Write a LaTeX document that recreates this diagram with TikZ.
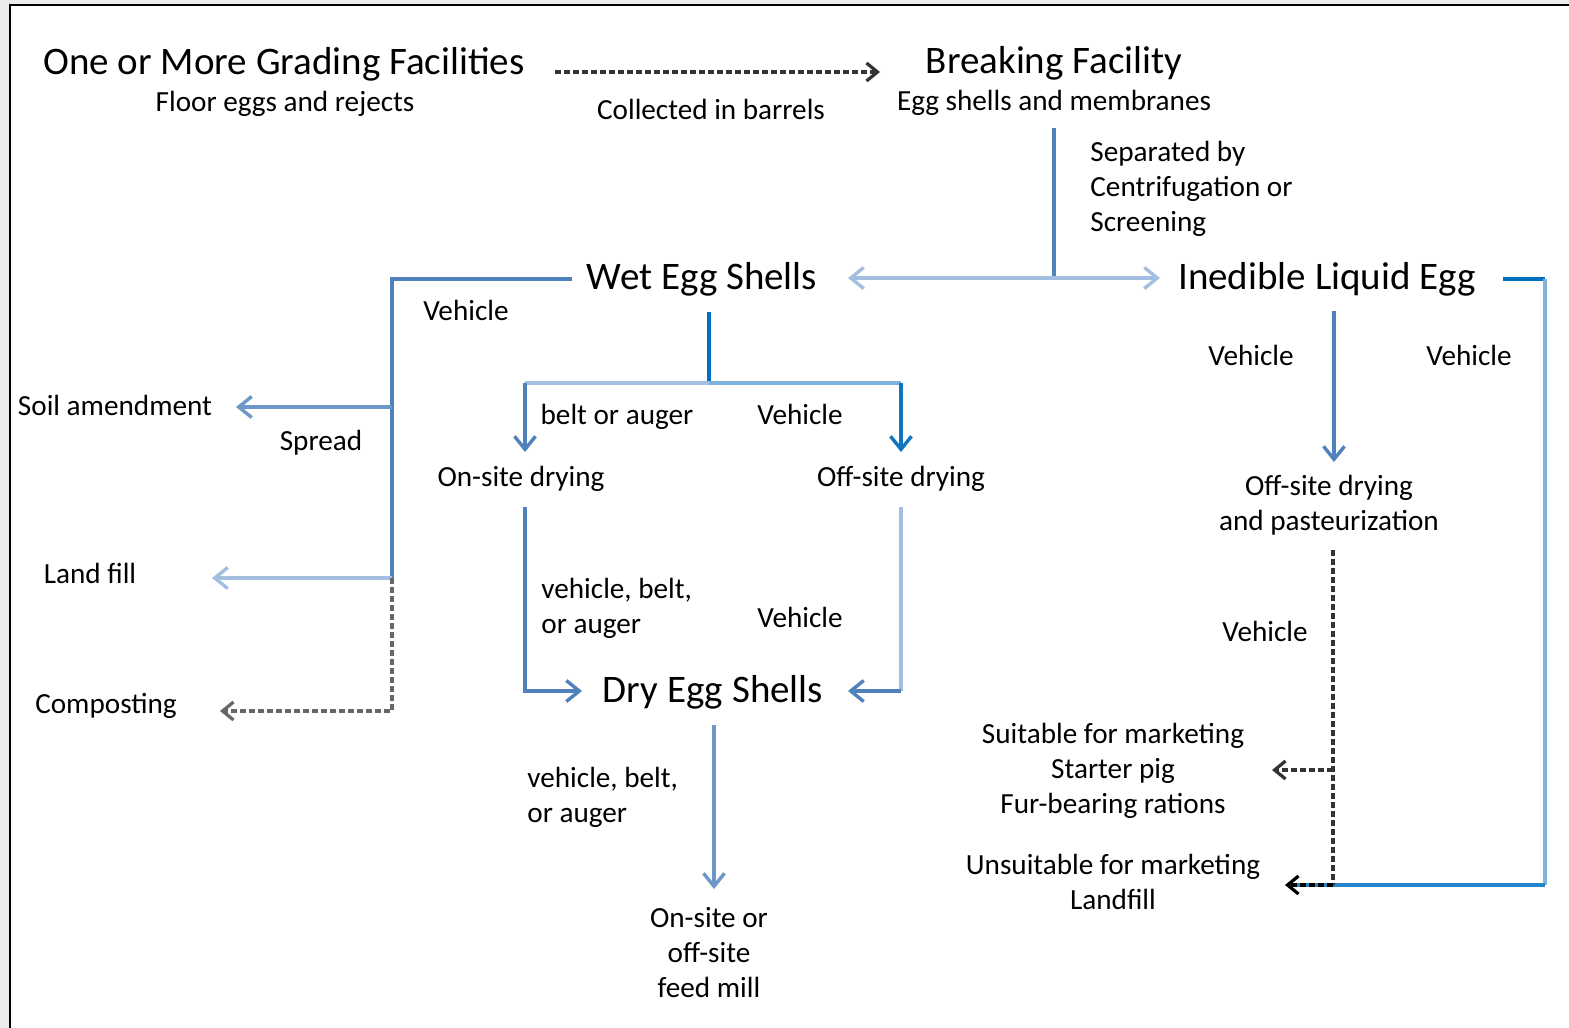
\documentclass[tikz,border=0pt]{standalone}
\usepackage{fontspec}
\setmainfont{Carlito}
\usetikzlibrary{arrows.meta}
\definecolor{blueA}{HTML}{4F81BD}
\definecolor{blueL}{HTML}{A3BEE0}
\definecolor{blueM}{HTML}{6D97C8}
\definecolor{blueD}{HTML}{0070C0}
\definecolor{blueS}{HTML}{7EB3E0}
\definecolor{frameg}{HTML}{ECECEC}
\begin{document}
\begin{tikzpicture}[x=0.5pt,y=-0.5pt,
  small/.style={inner sep=0pt,font=\fontsize{14.6}{17.5}\selectfont},
  head/.style={inner sep=0pt,font=\fontsize{19.5}{23}\selectfont},
  ln/.style={line width=1.7pt},
  tipb/.style={-{Straight Barb[length=6.5pt,width=10.5pt]}},
  tipd/.style={-{Straight Barb[length=5.5pt,width=9pt]}},
  dsh/.style={line width=1.6pt,draw=black!80,dash pattern=on 3pt off 1.5pt}]
\useasboundingbox (0,0) rectangle (1569,1028);
\fill[frameg] (0,0) rectangle (1569,1028);
\fill[white] (10,5) rectangle (1569,1028);
\draw[line width=1pt] (10,1028) -- (10,5) -- (1569,5);

% ---- text nodes ----
\node[head,anchor=base] (grading) at (284,74) {One or More Grading Facilities};
\node[small,anchor=base] (floor) at (285,111) {Floor eggs and rejects};
\node[small,anchor=base] (collected) at (711,119) {Collected in barrels};
\node[head,anchor=base] (breaking) at (1054,73) {Breaking Facility};
\node[small,anchor=base] (eggshells) at (1054,110) {Egg shells and membranes};
\node[small,anchor=west,align=left] (separated) at (1090,189) {Separated by\\Centrifugation or\\Screening};
\node[head,anchor=base] (wet) at (702,289) {Wet Egg Shells};
\node[head,anchor=base] (inedible) at (1327,289) {Inedible Liquid Egg};
\node[small,anchor=base] (veh1) at (466,320) {Vehicle};
\node[small,anchor=base] (soil) at (115,415) {Soil amendment};
\node[small,anchor=base] (spread) at (321,450) {Spread};
\node[small,anchor=base] (belt) at (617,424) {belt or auger};
\node[small,anchor=base] (veh2) at (800,424) {Vehicle};
\node[small,anchor=base] (onsite) at (521,486) {On-site drying};
\node[small,anchor=base] (offsite) at (901,486) {Off-site drying};
\node[small,anchor=base] (veh3) at (1251,365) {Vehicle};
\node[small,anchor=base] (veh4) at (1469,365) {Vehicle};
\node[small,align=center] (offpast) at (1329,505) {Off-site drying\\and pasteurization};
\node[small,anchor=base] (landfill) at (90,583) {Land fill};
\node[small,anchor=base] (compost) at (106,713) {Composting};
\node[small,anchor=west,align=left] (vbo1) at (541,608) {vehicle, belt,\\or auger};
\node[small,anchor=base] (veh5) at (800,627) {Vehicle};
\node[head,anchor=base] (dry) at (713,702) {Dry Egg Shells};
\node[small,anchor=west,align=left] (vbo2) at (527,797) {vehicle, belt,\\or auger};
\node[small,align=center] (feedmill) at (709,953) {On-site or\\off-site\\feed mill};
\node[small,anchor=base] (veh6) at (1265,641) {Vehicle};
\node[small,align=center] (suitable) at (1113,771) {Suitable for marketing\\Starter pig\\Fur-bearing rations};
\node[small,align=center] (unsuitable) at (1113,882) {Unsuitable for marketing\\Landfill};

% ---- junction / end coordinates ----
\coordinate (gradR) at (555,72);
\coordinate (brkL) at (880,72);
\coordinate (bkTop) at (1054,128);
\coordinate (bkJ) at (1054,278);
\coordinate (wetR) at (848,278);
\coordinate (inedL) at (1160,278);
\coordinate (wetL) at (572,279);
\coordinate (lJ1) at (392,279);
\coordinate (lJ2) at (392,407);
\coordinate (lJ3) at (392,578);
\coordinate (lJ4) at (392,711);
\coordinate (soilR) at (236,407);
\coordinate (landR) at (212,578);
\coordinate (compR) at (220,711);
\coordinate (wetB) at (709,312);
\coordinate (wJ) at (709,383);
\coordinate (wJL) at (525,383);
\coordinate (wJR) at (901,383);
\coordinate (onT) at (525,452);
\coordinate (offT) at (901,452);
\coordinate (onB) at (525,507);
\coordinate (offB) at (901,507);
\coordinate (dryL) at (582,691);
\coordinate (dryR) at (848,691);
\coordinate (dryB) at (714,725);
\coordinate (feedT) at (714,889);
\coordinate (inedB) at (1334,311);
\coordinate (opT) at (1334,462);
\coordinate (inedR) at (1503,279);
\coordinate (rJ1) at (1545,279);
\coordinate (rJ2) at (1545,885);
\coordinate (opB) at (1333,550);
\coordinate (pJ1) at (1333,770);
\coordinate (pJ2) at (1333,885);
\coordinate (suitR) at (1272,770);
\coordinate (unsR) at (1285,885);

% ---- connectors ----
\draw[dsh,tipd] (gradR) -- (brkL);

\draw[ln,blueA] (bkTop) -- (bkJ);
\draw[ln,blueL,tipb] (bkJ) -- (wetR);
\draw[ln,blueL,tipb] (bkJ) -- (inedL);

\draw[ln,blueA] (wetL) -- (lJ1) -- (lJ3);
\draw[ln,blueM,tipb] (lJ2) -- (soilR);
\draw[ln,blueL,tipb] (lJ3) -- (landR);
\draw[dsh,draw=black!60,tipd] (lJ3) -- (lJ4) -- (compR);

\draw[ln,blueD] (wetB) -- (wJ);
\draw[ln,blueL] (wJL) -- (wJ);
\draw[ln,blueS] (wJ) -- (wJR);
\draw[ln,blueA,tipb] (wJL) -- (onT);
\draw[ln,blueD!80!blueA,tipb] (wJR) -- (offT);

\draw[ln,blueA,tipb] (onB) -- (onB |- dryL) -- (dryL);
\draw[ln,blueL] (offB) -- (offB |- dryR);
\draw[ln,blueA,tipb] (offB |- dryR) -- (dryR);

\draw[ln,blueM,tipb] (dryB) -- (feedT);

\draw[ln,blueA,tipb] (inedB) -- (opT);

\draw[ln,blueD] (inedR) -- (rJ1);
\draw[ln,blueS] (rJ1) -- (rJ2);
\draw[ln,blueD!70!blueS] (rJ2) -- ([xshift=2pt]unsR);

\draw[dsh] (opB) -- (pJ2);
\draw[dsh,tipd] (pJ1) -- (suitR);
\draw[dsh,draw=black,tipd] (pJ2) -- (unsR);
\end{tikzpicture}
\end{document}
